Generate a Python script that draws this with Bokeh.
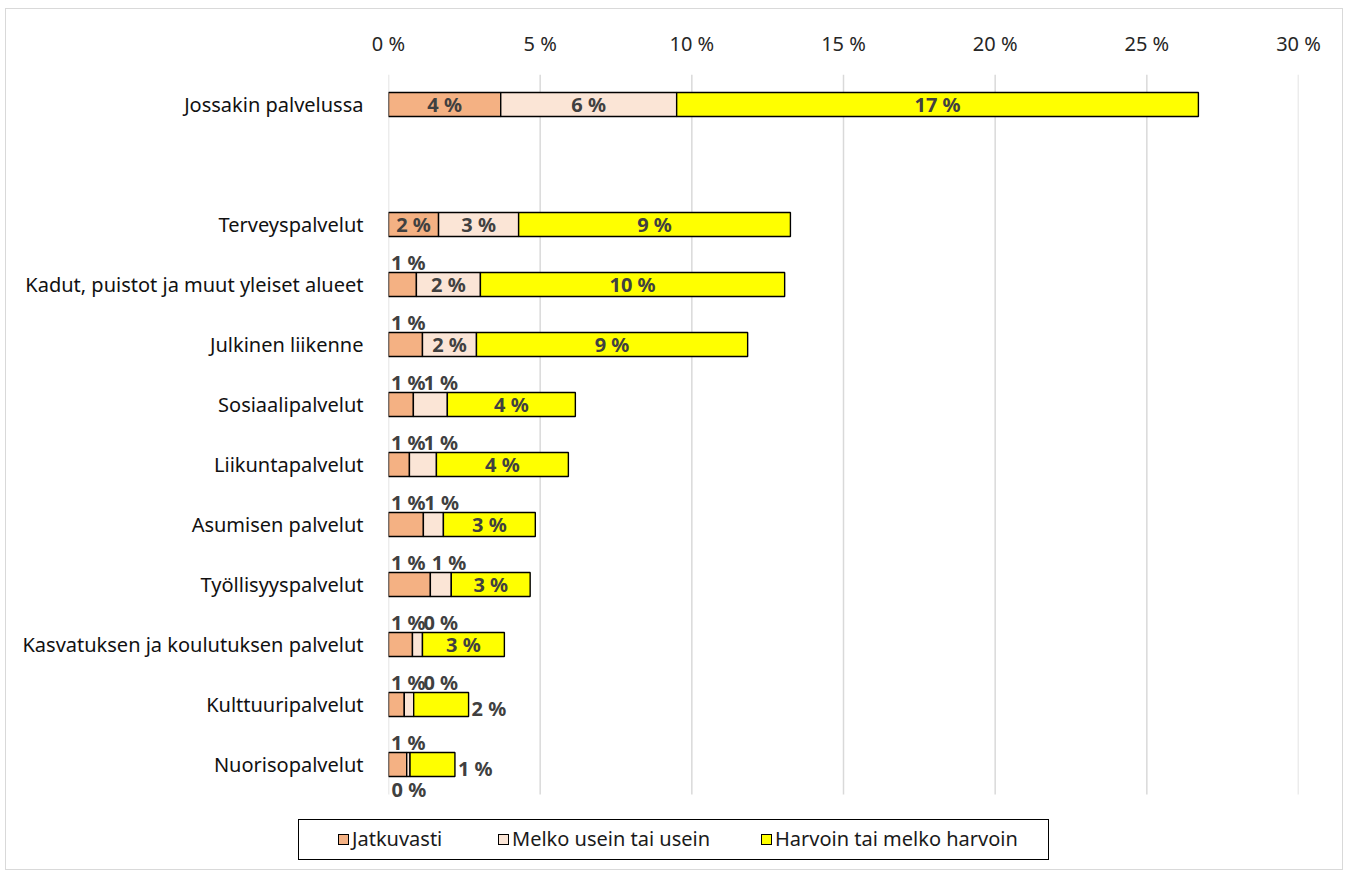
import math
from bokeh.plotting import figure
from bokeh.layouts import column
from bokeh.models import (Range1d, FixedTicker, ColumnDataSource, Div)
from bokeh.core.properties import value
from bokeh.embed import file_html
from bokeh.resources import INLINE

# ---------------- data ----------------
categories = [
    "Jossakin palvelussa",
    "Terveyspalvelut",
    "Kadut, puistot ja muut yleiset alueet",
    "Julkinen liikenne",
    "Sosiaalipalvelut",
    "Liikuntapalvelut",
    "Asumisen palvelut",
    "Työllisyyspalvelut",
    "Kasvatuksen ja koulutuksen palvelut",
    "Kulttuuripalvelut",
    "Nuorisopalvelut",
]
jatkuvasti = [3.7, 1.65, 0.92, 1.12, 0.82, 0.69, 1.15, 1.38, 0.79, 0.52, 0.6]
melko_usein = [5.8, 2.64, 2.11, 1.78, 1.12, 0.89, 0.66, 0.69, 0.33, 0.31, 0.11]
harvoin = [17.2, 8.96, 10.03, 8.94, 4.22, 4.35, 3.03, 2.6, 2.7, 1.81, 1.48]
series_names = ["Jatkuvasti", "Melko usein tai usein", "Harvoin tai melko harvoin"]
tick_values = [0, 5, 10, 15, 20, 25, 30]
tick_labels = ["0 %", "5 %", "10 %", "15 %", "20 %", "25 %", "30 %"]

colors = ["#F4B183", "#FBE5D6", "#FFFF00"]
FONT = "Noto Sans"
LABEL_COLOR = "#404040"

# slot positions: first row, one empty slot, then the rest
ypos = [0.0] + [-(i + 1.0) for i in range(1, len(categories))]
y_top = 0.5
y_bottom = ypos[-1] - 0.5

W = 1336
p = figure(width=W, height=805,
           y_range=Range1d(y_bottom - 0.2, y_top),
           x_range=Range1d(0, 30), x_axis_location="above",
           output_backend="svg", toolbar_location=None,
           min_border_left=382, min_border_right=44,
           min_border_top=65, min_border_bottom=8)
p.outline_line_color = None

# axes
p.xaxis.ticker = FixedTicker(ticks=tick_values)
p.xaxis.major_label_overrides = {v: l for v, l in zip(tick_values, tick_labels)}
p.xaxis.axis_line_color = None
p.xaxis.major_tick_line_color = None
p.xaxis.minor_tick_line_color = None
p.xaxis.major_label_text_font = FONT
p.xaxis.major_label_text_font_size = "20px"
p.xaxis.major_label_text_color = "#262626"
p.xaxis.major_label_standoff = 12

p.yaxis.ticker = FixedTicker(ticks=ypos)
p.yaxis.major_label_overrides = {y: c for y, c in zip(ypos, categories)}
p.yaxis.axis_line_color = None
p.yaxis.major_tick_line_color = None
p.yaxis.minor_tick_line_color = None
p.yaxis.major_label_text_font = FONT
p.yaxis.major_label_text_font_size = "20px"
p.yaxis.major_label_text_color = "#111111"
p.yaxis.major_label_standoff = 19

p.xgrid.grid_line_color = None
p.ygrid.grid_line_color = None
p.segment(x0=tick_values, x1=tick_values, y0=[y_bottom] * len(tick_values),
          y1=[y_top] * len(tick_values), line_color="#d9d9d9", line_width=1.5)

# bars
series = [jatkuvasti, melko_usein, harvoin]
lefts = []
rights = []
acc = [0.0] * len(categories)
for s in series:
    l = list(acc)
    r = [a + v for a, v in zip(acc, s)]
    lefts.append(l)
    rights.append(r)
    acc = r

for i, name in enumerate(series_names):
    src = ColumnDataSource(dict(y=ypos, left=lefts[i], right=rights[i]))
    p.hbar(y="y", left="left", right="right", source=src, fill_color=colors[i],
           height=0.4, line_color="black", line_width=1.4)


def fmt(v):
    return f"{math.floor(v + 0.5)} %"


inside = dict(x=[], y=[], text=[])
outside = dict(x=[], y=[], text=[])

for k, yy in enumerate(ypos):
    w = jatkuvasti[k]
    if w >= 1.4:
        inside["x"].append(lefts[0][k] + w / 2); inside["y"].append(yy); inside["text"].append(fmt(w))
    else:
        outside["x"].append(0.08); outside["y"].append(yy + 0.37); outside["text"].append(fmt(w))
    w = melko_usein[k]
    c = lefts[1][k] + w / 2
    if w >= 1.5:
        inside["x"].append(c); inside["y"].append(yy); inside["text"].append(fmt(w))
    elif w < 0.2:
        outside["x"].append(0.1); outside["y"].append(yy - 0.42); outside["text"].append(fmt(w))
    else:
        outside["x"].append(max(1.15, c - 0.3)); outside["y"].append(yy + 0.37); outside["text"].append(fmt(w))
    w = harvoin[k]
    if w >= 2.5:
        inside["x"].append(lefts[2][k] + w / 2); inside["y"].append(yy); inside["text"].append(fmt(w))
    else:
        outside["x"].append(rights[2][k] + 0.1); outside["y"].append(yy - 0.06); outside["text"].append(fmt(w))

common = dict(text_font=value(FONT), text_font_style="bold", text_font_size="20px",
              text_color=LABEL_COLOR, text_baseline="middle")
p.text(x="x", y="y", text="text", source=ColumnDataSource(inside), text_align="center", **common)
p.text(x="x", y="y", text="text", source=ColumnDataSource(outside), text_align="left", **common)

# legend strip (HTML so it can sit centred under the whole chart)
item_left = [39, 199, 462]
items_html = ""
for name, col, lx in zip(series_names, colors, item_left):
    items_html += (
        f'<div style="position:absolute;left:{lx}px;top:0;height:100%;display:flex;align-items:center;">'
        f'<span style="display:inline-block;width:11px;height:11px;background:{col};'
        f'border:1.4px solid #000;margin-right:3px;"></span>'
        f'<span>{name}</span></div>'
    )
legend_html = (
    f'<div style="position:relative;width:{W}px;height:55px;">'
    f'<div style="position:absolute;left:292px;top:5px;width:751px;height:41px;'
    f'border:1.4px solid #000;background:#fff;font-family:\'Noto Sans\';font-size:20px;'
    f'color:#1a1a1a;white-space:nowrap;">{items_html}</div></div>'
)
lg = Div(text=legend_html, width=W, height=55, margin=0)

layout = column(p, lg, spacing=0,
                styles={"border": "1px solid #d9d9d9", "margin-left": "5px", "margin-top": "8px"})

open("out.html", "w").write(file_html(layout, INLINE))
